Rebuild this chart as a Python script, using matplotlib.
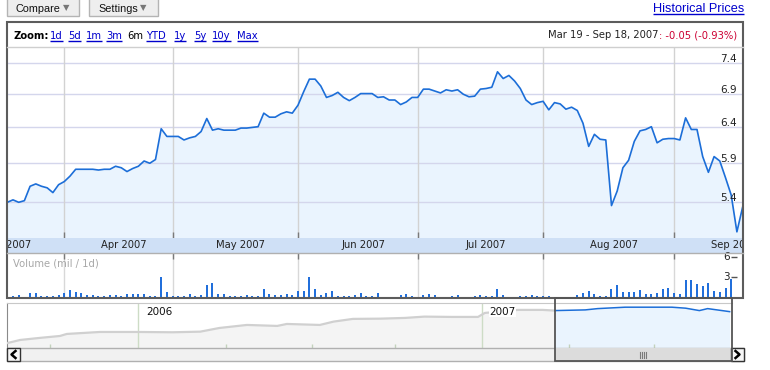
import matplotlib
matplotlib.use('Agg')
import matplotlib.pyplot as plt
import matplotlib.transforms as mtransforms
from matplotlib.patches import Rectangle
import numpy as np

# daily close, Mar 19 - Sep 18 2007 (one value per trading day)
price = [5.40, 5.43, 5.40, 5.42, 5.60, 5.63, 5.60, 5.58, 5.52, 5.62,
         5.66, 5.73, 5.82, 5.82, 5.82, 5.82, 5.81, 5.82, 5.82, 5.86,
         5.84, 5.79, 5.83, 5.86, 5.93, 5.90, 5.95, 6.38, 6.27, 6.27,
         6.27, 6.22, 6.25, 6.27, 6.34, 6.53, 6.36, 6.38, 6.36, 6.36,
         6.36, 6.39, 6.39, 6.40, 6.41, 6.61, 6.55, 6.55, 6.60, 6.63,
         6.61, 6.73, 6.94, 7.14, 7.14, 7.03, 6.85, 6.88, 6.93, 6.85,
         6.80, 6.85, 6.91, 6.91, 6.91, 6.85, 6.86, 6.81, 6.81, 6.74,
         6.78, 6.85, 6.85, 6.98, 6.98, 6.95, 6.92, 6.97, 6.95, 6.97,
         6.90, 6.86, 6.87, 6.98, 6.99, 7.01, 7.26, 7.15, 7.20, 7.11,
         6.99, 6.81, 6.74, 6.77, 6.79, 6.66, 6.77, 6.75, 6.67, 6.70,
         6.65, 6.46, 6.13, 6.30, 6.23, 6.22, 5.36, 5.54, 5.84, 5.94,
         6.20, 6.35, 6.37, 6.41, 6.18, 6.23, 6.24, 6.24, 6.22, 6.54,
         6.37, 6.37, 5.99, 5.78, 5.99, 5.93, 5.71, 5.49, 5.05, 5.34]

# volume, million shares per day
volume = [0.29, 0.32, 0.38, 0.16, 0.77, 0.68, 0.32, 0.32, 0.29, 0.43,
          0.68, 1.16, 0.91, 0.68, 0.39, 0.39, 0.29, 0.32, 0.39, 0.39,
          0.29, 0.54, 0.54, 0.58, 0.58, 0.32, 0.24, 3.05, 0.91, 0.24,
          0.29, 0.32, 0.58, 0.29, 0.39, 1.89, 2.23, 0.62, 0.58, 0.29,
          0.29, 0.29, 0.39, 0.32, 0.29, 1.35, 0.58, 0.39, 0.43, 0.62,
          0.39, 1.02, 0.97, 3.05, 1.35, 0.48, 0.68, 1.02, 0.29, 0.29,
          0.29, 0.39, 0.68, 0.29, 0.24, 0.68, 0.19, 0.19, 0.11, 0.39,
          0.58, 0.29, 0.19, 0.39, 0.54, 0.43, 0.19, 0.19, 0.24, 0.39,
          0.19, 0.19, 0.24, 0.39, 0.24, 0.24, 1.26, 0.43, 0.19, 0.19,
          0.24, 0.24, 0.43, 0.24, 0.24, 0.29, 0.05, 0.11, 0.11, 0.15,
          0.43, 0.73, 1.02, 0.58, 0.29, 0.24, 1.35, 1.84, 0.83, 0.87,
          0.83, 1.21, 0.58, 0.58, 0.73, 1.26, 1.41, 0.68, 0.54, 2.61,
          2.57, 2.03, 1.70, 2.13, 0.97, 0.87, 1.41, 2.81]

month_names = ['Mar 2007', 'Apr 2007', 'May 2007', 'Jun 2007',
               'Jul 2007', 'Aug 2007', 'Sep 2007']
month_start = [-12, 10, 29, 51, 72, 94, 117, 136]   # trading-day index of each month start
price_ticks = [5.4, 5.9, 6.4, 6.9, 7.4]
vol_ticks = [3, 6]

# overview strip (trading days relative to Mar 19 2007)
nav_x = [-399, -389, -375, -360, -355, -331, -303, -278, -258, -244, -224,
         -202, -195, -171, -161, -147, -127, -109, -95, -75, -56, -51,
         -27, -9, 0, 22, 31, 51, 85, 95, 105, 111, 127]
nav_v = [0.76, 1.30, 1.63, 1.95, 2.28, 2.60, 2.60, 2.55, 2.65, 3.25, 3.74,
         3.58, 3.90, 3.74, 4.28, 4.72, 4.76, 4.88, 5.09, 5.04, 5.04, 5.69,
         6.18, 6.18, 6.07, 6.18, 6.39, 6.62, 6.62, 6.46, 6.07, 6.39, 5.90]
nav_years = ['2006', '2007']
nav_year_x = [-303, -53]
nav_quarter_x = [-367, -239, -177, -116, 10, 72]

zoom_links = ['1d', '5d', '1m', '3m', '6m', 'YTD', '1y', '5y', '10y', 'Max']
zoom_link_x = [50, 68, 86, 106, 127, 146, 174, 194, 212, 237]
range_text = 'Mar 19 - Sep 18, 2007'
change_text = ': -0.05 (-0.93%)'

LINE = '#1c6ed8'
FILL = '#eaf4fe'
BAND = '#cfe0f6'
LINK = '#0000cc'
CHART_FONT = ['DejaVu Sans']
UI_FONT = ['Liberation Sans', 'DejaVu Sans']

W, H = 770, 370
fig = plt.figure(figsize=(W / 100, H / 100), dpi=100)
fig.patch.set_facecolor('white')


def box(x0, y0, x1, y1):
    return [x0 / W, 1 - y1 / H, (x1 - x0) / W, (y1 - y0) / H]


def bare(a):
    a.set_xticks([])
    a.set_yticks([])
    a.minorticks_off()
    for s in a.spines.values():
        s.set_visible(False)


ui = fig.add_axes([0, 0, 1, 1], zorder=0)
ui.set_xlim(0, W); ui.set_ylim(H, 0); ui.axis('off')
top = fig.add_axes([0, 0, 1, 1], zorder=10)
top.set_xlim(0, W); top.set_ylim(H, 0); top.axis('off')
rend = fig.canvas.get_renderer()


def underline(t, y, color):
    bb = t.get_window_extent(rend)
    ui.plot([bb.x0, bb.x1], [y, y], color=color, lw=1, solid_capstyle='butt')


# --- buttons and link on top ---
for x0, x1, label, tri in [(7, 79, 'Compare', 66.7), (89, 158, 'Settings', 143)]:
    ui.add_patch(Rectangle((x0, -2), x1 - x0, 18, fc='#eeeeee', ec='#b4b4b4', lw=1))
    ui.text(x0 + 9, 11.7, label, fontsize=7.8, family=UI_FONT, va='baseline', color='#111')
    ui.text(tri, 8, '\u25bc', fontsize=6, family=['DejaVu Sans'], ha='center', va='center', color='#777')
t = ui.text(744, 12, 'Historical Prices', fontsize=9.2, family=UI_FONT, ha='right',
            va='baseline', color=LINK)
underline(t, 13.6, LINK)

# --- zoom row ---
ui.text(13, 39, 'Zoom:', fontsize=7.2, family=CHART_FONT, weight='bold', va='baseline', color='#000')
for name, zx in zip(zoom_links, zoom_link_x):
    c = '#000' if name == '6m' else LINK
    t = ui.text(zx, 39, name, fontsize=7.2, family=CHART_FONT, va='baseline', color=c)
    if name != '6m':
        underline(t, 40.6, LINK)
t = ui.text(737, 38, change_text, fontsize=7.2, family=CHART_FONT, ha='right', va='baseline', color='#cc0033')
bb = t.get_window_extent(rend)
ui.text(bb.x0, 38, range_text, fontsize=7.2, family=CHART_FONT, ha='right', va='baseline', color='#222')

# --- price panel ---
x = np.arange(len(price))
xlim = (-0.05, 129.07)
ax = fig.add_axes(box(7, 47, 743, 238), zorder=2)
ax.set_yscale('log')
ax.set_xlim(*xlim)
ax.set_ylim(4.98, 7.68)
bare(ax)
ax.fill_between(x, price, 4.0, color=FILL, lw=0, zorder=1)
ax.hlines(price_ticks, *xlim, color='#d4d6ec', lw=1, zorder=2)
ax.vlines(month_start[1:-1], 4.98, 7.68, color='#d2d2d2', lw=1, zorder=2)
ax.vlines(month_start[1:-1], 0, 6 / 191, transform=ax.get_xaxis_transform(),
          color='#7a7a7a', lw=1, zorder=3)
ax.plot(x, price, color=LINE, lw=1.2, zorder=4)
lift = mtransforms.offset_copy(ax.transData, fig=fig, y=1.5, units='dots')
for v in price_ticks:
    ax.text(xlim[1] - 1.1, v, f'{v:.1f}', transform=lift, ha='right', va='baseline',
            fontsize=7.5, family=CHART_FONT, color='#222', zorder=5)

# --- month band ---
axd = fig.add_axes(box(7, 238, 743, 253), zorder=2)
axd.set_facecolor(BAND)
axd.set_xlim(*xlim); axd.set_ylim(0, 1)
bare(axd)
for k, name in enumerate(month_names):
    c = (month_start[k] + month_start[k + 1]) / 2 + 1
    axd.text(c, 0.5, name, ha='center', va='center', fontsize=7.2, family=CHART_FONT,
             color='#222', clip_on=True)

# --- volume panel ---
axv = fig.add_axes(box(7, 253, 743, 298), zorder=2)
axv.set_xlim(*xlim); axv.set_ylim(0, 6.55)
bare(axv)
axv.vlines(month_start[1:-1], 0, 6.55, color='#d8d8d8', lw=1)
axv.vlines(month_start[1:-1], 1 - 6 / 45, 1, transform=axv.get_xaxis_transform(),
           color='#7a7a7a', lw=1)
axv.vlines(np.arange(len(volume)), 0, volume, color='#0a60d8', lw=1.3)
axv.text(0.008, 0.76, 'Volume (mil / 1d)', transform=axv.transAxes, fontsize=7.2,
         family=CHART_FONT, color='#a8a8a8', va='center')
for v in vol_ticks:
    axv.text(xlim[1] - 2.3, v, str(v), ha='right', va='center', fontsize=7.5,
             family=CHART_FONT, color='#222')
    axv.hlines(v, xlim[1] - 2.1, xlim[1] - 1.0, color='#555', lw=1)

# --- overview strip ---
axn = fig.add_axes(box(7, 303, 731.7, 348), zorder=2)
axn.set_xlim(-398.5, 128.5); axn.set_ylim(0, 7.3)
bare(axn)
axn.spines['top'].set_visible(True); axn.spines['top'].set_color('#c8c8c8')
axn.spines['left'].set_visible(True); axn.spines['left'].set_color('#8a8a8a')
nx = np.array(nav_x); nv = np.array(nav_v)
old = nx <= 0
new = nx >= 0
axn.fill_between(nx[old], nv[old], 0, color='#f4f4f4', lw=0, zorder=1)
axn.fill_between(nx[new], nv[new], 0, color=FILL, lw=0, zorder=1)
axn.vlines(nav_year_x, 0, 7.3, color='#cddcc6', lw=1, zorder=2)
axn.vlines(nav_quarter_x, 0, 4 / 45, transform=axn.get_xaxis_transform(),
           color='#c3d2bc', lw=1, zorder=2)
axn.plot(nx[old], nv[old], color='#d0d0d0', lw=1.6, zorder=3)
axn.plot(nx[new], nv[new], color=LINE, lw=1.1, zorder=3)
for name, yx in zip(nav_years, nav_year_x):
    axn.text(yx + 5.5, 0.81, name, transform=axn.get_xaxis_transform(), fontsize=7.5,
             family=CHART_FONT, va='center', color='#111', zorder=4,
             bbox=dict(fc='white', ec='none', pad=0.3) if name == '2007' else None)

# --- frame, scrollbar, window ---
top.add_patch(Rectangle((7, 22), 736, 276, fc='none', ec='#5c5c5c', lw=1.5))
top.plot([7, 743], [47, 47], color='#cfcfcf', lw=1)
top.plot([7, 743], [253, 253], color='#b0b0b0', lw=1)
top.add_patch(Rectangle((7, 348), 737, 13, fc='#f1f1f1', ec='#b0b0b0', lw=1))
top.add_patch(Rectangle((555, 348), 176.7, 13, fc='#dcdcdc', ec='none'))
for gx in [639.5, 641.5, 643.5, 645.5]:
    top.plot([gx, gx], [351.5, 357.5], color='#7a7a7a', lw=0.8)
top.add_patch(Rectangle((7, 348), 13, 13, fc='#f6f6f6', ec='#333333', lw=1))
top.add_patch(Rectangle((731, 348), 13, 13, fc='#f6f6f6', ec='#333333', lw=1))
top.plot([15.5, 11.5, 15.5], [351, 354.5, 358], color='#000', lw=1.8)
top.plot([735.5, 739.5, 735.5], [351, 354.5, 358], color='#000', lw=1.8)
top.add_patch(Rectangle((554.5, 298), 177.2, 63, fc='none', ec='#555555', lw=1.3))

fig.savefig('out.png', dpi=100)
